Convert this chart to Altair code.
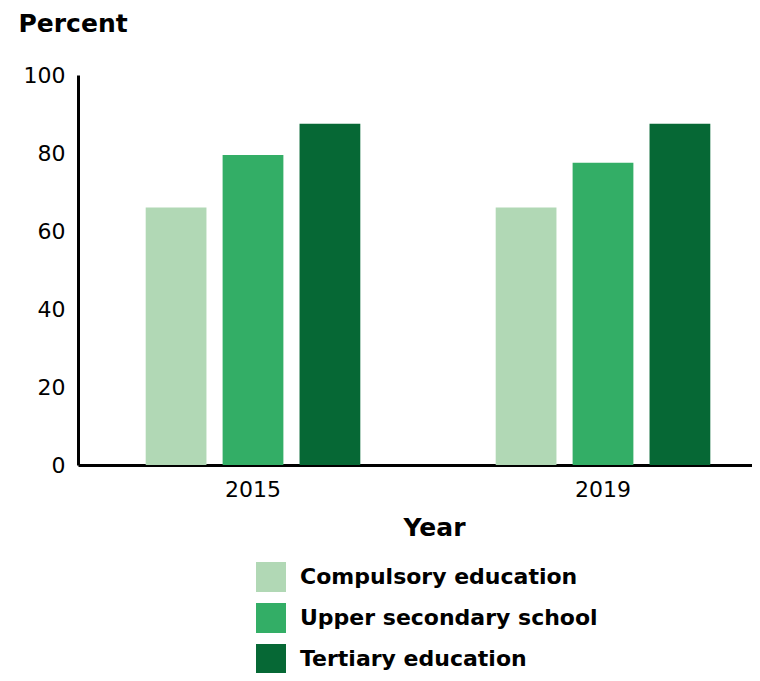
import altair as alt
import pandas as pd

years = ["2015", "2015", "2015", "2019", "2019", "2019"]
levels = ["Compulsory education", "Upper secondary school", "Tertiary education"] * 2
values = [66, 79.5, 87.5, 66, 77.5, 87.5]
level_order = ["Compulsory education", "Upper secondary school", "Tertiary education"]
colors = ["#b1d8b5", "#33ae66", "#066835"]

df = pd.DataFrame({"Year": years, "Level": levels, "Percent": values})

FONT = "DejaVu Sans"

chart = alt.Chart(df).mark_bar(stroke=None).encode(
    x=alt.X("Year:N",
            scale=alt.Scale(paddingInner=0, paddingOuter=0),
            axis=alt.Axis(title="Year", labelAngle=0, tickSize=0, labelPadding=14,
                          domainColor="black", domainWidth=3,
                          labelFont=FONT, labelFontSize=22, labelColor="black",
                          titleFont=FONT, titleFontSize=25, titleFontWeight="bold",
                          titleColor="black", titleX=356, titleY=50, titleAnchor="middle")),
    xOffset=alt.XOffset("Level:N", sort=level_order,
                        scale=alt.Scale(paddingInner=0.21, paddingOuter=0.88)),
    y=alt.Y("Percent:Q",
            scale=alt.Scale(domain=[0, 100], nice=False),
            axis=alt.Axis(values=[0, 20, 40, 60, 80, 100], title="Percent", grid=False,
                          tickSize=0, labelPadding=13, domainColor="black", domainWidth=3,
                          labelFont=FONT, labelFontSize=22, labelColor="black",
                          titleFont=FONT, titleFontSize=25, titleFontWeight="bold",
                          titleColor="black", titleAngle=0, titleAlign="left",
                          titleBaseline="alphabetic", titleX=-60, titleY=-44)),
    color=alt.Color("Level:N",
                    scale=alt.Scale(domain=level_order, range=colors),
                    legend=alt.Legend(title=None, orient="none", legendX=178, legendY=487,
                                      symbolType="square", symbolSize=900,
                                      symbolStrokeWidth=0, rowPadding=11,
                                      labelOffset=14, labelFont=FONT, labelFontSize=22,
                                      labelFontWeight="bold",
                                      labelColor="black", labelLimit=400)),
).properties(
    width=700,
    height=390,
    autosize=alt.AutoSizeParams(type="none"),
    padding={"left": 70, "top": 67, "right": -26, "bottom": 208},
).configure_view(stroke=None)

chart.save("out.html", embed_options={"renderer": "svg", "actions": False})
